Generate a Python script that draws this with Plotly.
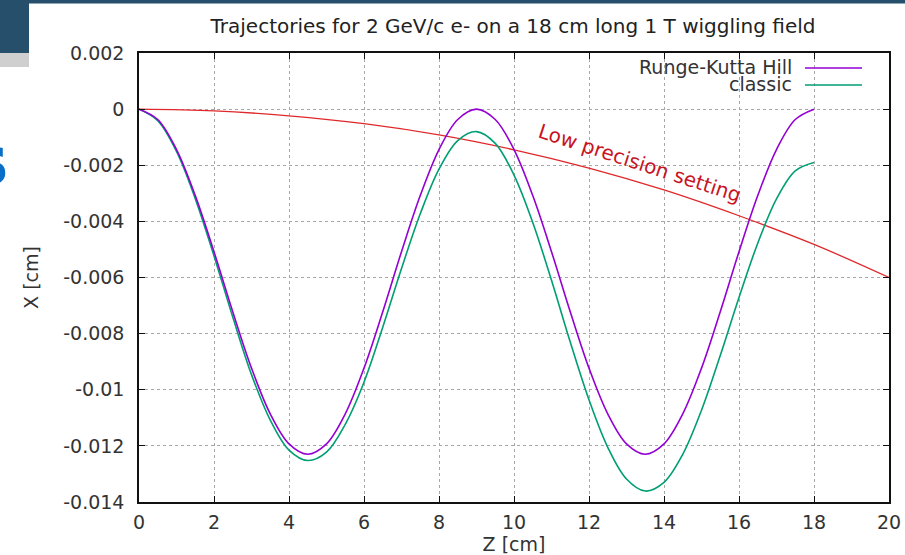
import plotly.graph_objects as go

# ---------------- data ----------------
z_rk = [0, 0.5, 1, 1.5, 2, 2.5, 3, 3.5, 4, 4.5, 5, 5.5, 6, 6.5, 7, 7.5, 8, 8.5, 9,
        9.5, 10, 10.5, 11, 11.5, 12, 12.5, 13, 13.5, 14, 14.5, 15, 15.5, 16, 16.5, 17, 17.5, 18]
x_rk = [0, -0.00037, -0.00144, -0.00308, -0.00508, -0.00722, -0.00923, -0.01086, -0.01193, -0.0123,
        -0.01193, -0.01086, -0.00923, -0.00722, -0.00508, -0.00308, -0.00144, -0.00037, 0,
        -0.00037, -0.00144, -0.00308, -0.00508, -0.00722, -0.00923, -0.01086, -0.01193, -0.0123,
        -0.01193, -0.01086, -0.00923, -0.00722, -0.00508, -0.00308, -0.00144, -0.00037, 0]

z_classic = z_rk
x_classic = [0, -0.00041, -0.00151, -0.00319, -0.00523, -0.00741, -0.00946, -0.01108, -0.01215, -0.01252,
             -0.01222, -0.01123, -0.00973, -0.00777, -0.00568, -0.00373, -0.00214, -0.00112, -0.0008,
             -0.00122, -0.00235, -0.00404, -0.0061, -0.0083, -0.01036, -0.01205, -0.01318, -0.01361,
             -0.0133, -0.0123, -0.01073, -0.00878, -0.00671, -0.00478, -0.0032, -0.0022, -0.0019]

z_low = [0, 2, 4, 6, 8, 10, 12, 14, 16, 18, 20]
x_low = [0, -0.00006, -0.00024, -0.00052, -0.00092, -0.00145, -0.0021, -0.00288, -0.0038, -0.00482, -0.006]

x_tickvals = [0, 2, 4, 6, 8, 10, 12, 14, 16, 18, 20]
x_ticktext = ["0", "2", "4", "6", "8", "10", "12", "14", "16", "18", "20"]
y_tickvals = [0.002, 0, -0.002, -0.004, -0.006, -0.008, -0.01, -0.012, -0.014]
y_ticktext = ["0.002", "0", "-0.002", "-0.004", "-0.006", "-0.008", "-0.01", "-0.012", "-0.014"]

title_text = "Trajectories for 2 GeV/c e- on a 18 cm long 1 T wiggling field"
series_names = ["Runge-Kutta Hill", "classic"]
note_text = "Low precision setting"

# ---------------- styling ----------------
FONT = "DejaVu Sans"
TXT = "#333333"
PURPLE = "#9400d3"
GREEN = "#009e73"
RED = "#e0282a"

fig = go.Figure()
fig.add_trace(go.Scatter(x=z_low, y=x_low, mode="lines", name="low precision",
                         line=dict(color=RED, width=1.3, shape="spline"), showlegend=False))
fig.add_trace(go.Scatter(x=z_classic, y=x_classic, mode="lines", name=series_names[1],
                         line=dict(color=GREEN, width=1.6, shape="spline"), showlegend=False))
fig.add_trace(go.Scatter(x=z_rk, y=x_rk, mode="lines", name=series_names[0],
                         line=dict(color=PURPLE, width=1.6, shape="spline"), showlegend=False))

L, R, T, B = 139, 16, 53, 53
W, H = 905, 555
pw, ph = W - L - R, H - T - B


def px(xp):
    return (xp - L) / pw


def py(yp):
    return (H - B - yp) / ph


fig.update_layout(
    width=W, height=H,
    margin=dict(l=L, r=R, t=T, b=B, autoexpand=False),
    paper_bgcolor="white", plot_bgcolor="white",
    font=dict(family=FONT, size=19, color=TXT),
    title=dict(text=title_text, xref="container", x=513 / W, xanchor="center",
               yref="container", y=1 - 26 / H, yanchor="middle",
               font=dict(family=FONT, size=20, color="#222222")),
    showlegend=False,
)

axis_common = dict(showline=True, mirror="ticks", linecolor="#111111", linewidth=1.5,
                   ticks="inside", ticklen=6, tickwidth=1.2, tickcolor="#111111",
                   showgrid=True, gridcolor="#a8a8a8", gridwidth=1, griddash="dot",
                   zeroline=False, tickfont=dict(family=FONT, size=19, color=TXT))

fig.update_xaxes(range=[0, 20], tickvals=x_tickvals, ticktext=x_ticktext,
                 ticklabelstandoff=2,
                 title=dict(text="Z [cm]", standoff=3, font=dict(family=FONT, size=19, color=TXT)),
                 **axis_common)
fig.update_yaxes(range=[-0.014, 0.002], tickvals=y_tickvals, ticktext=y_ticktext,
                 ticklabelstandoff=9,
                 title=dict(text="X [cm]", standoff=20, font=dict(family=FONT, size=19, color=TXT)),
                 **axis_common)

# manual gnuplot-style legend (text, then line sample)
legend_rows = [(series_names[0], PURPLE, 67), (series_names[1], GREEN, 84)]
for name, col, yrow in legend_rows:
    fig.add_annotation(text=name, xref="paper", yref="paper", x=px(794), y=py(yrow),
                       xanchor="right", yanchor="middle", showarrow=False,
                       font=dict(family=FONT, size=19, color=TXT))
    fig.add_shape(type="line", xref="paper", yref="paper", x0=px(805), x1=px(862),
                  y0=py(yrow + 1), y1=py(yrow + 1), line=dict(color=col, width=1.6))

# label on the red curve
fig.add_annotation(text=note_text, x=13.35, y=-0.00193, xref="x", yref="y",
                   textangle=18, showarrow=False,
                   font=dict(family=FONT, size=20, color="#c8141e"))

# slide decorations around the chart
DARK = "#254f6b"
fig.add_shape(type="rect", xref="paper", yref="paper", x0=px(-5), x1=px(W + 5), y0=py(3.5), y1=py(-5),
              line=dict(width=0), fillcolor=DARK, layer="below")
fig.add_shape(type="rect", xref="paper", yref="paper", x0=px(-5), x1=px(29), y0=py(53), y1=py(-5),
              line=dict(width=0), fillcolor=DARK, layer="below")
fig.add_shape(type="rect", xref="paper", yref="paper", x0=px(-5), x1=px(29), y0=py(67), y1=py(53),
              line=dict(width=0), fillcolor="#cfcfcf", layer="below")
fig.add_annotation(text="<b>s</b>", xref="paper", yref="paper", x=px(-12), y=py(160),
                   xanchor="center", yanchor="middle", showarrow=False,
                   font=dict(family=FONT, size=68, color="#0a6fc8"))

fig.write_html("out.html", config={"displayModeBar": False},
               post_script="document.body.style.margin='0';document.body.style.overflow='hidden';")
